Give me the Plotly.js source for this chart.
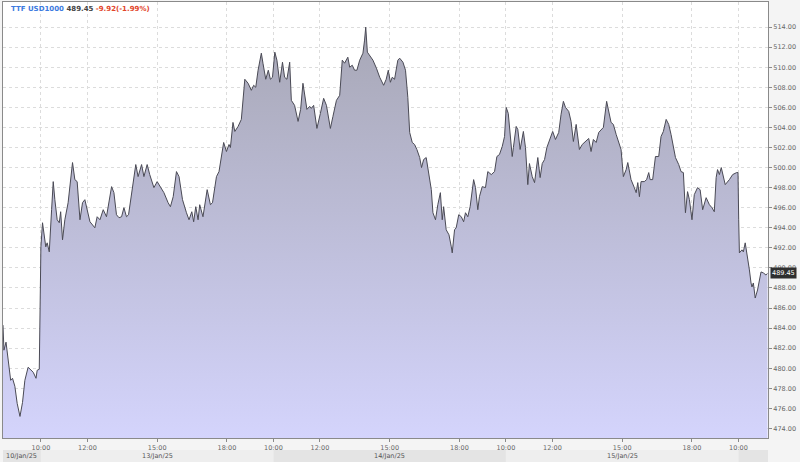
<!DOCTYPE html>
<html>
<head>
<meta charset="utf-8">
<script src="https://cdn.plot.ly/plotly-3.0.1.min.js"></script>
<style>html,body{margin:0;padding:0;background:#f4f4f4;}#chart{width:800px;height:462px;}</style>
</head>
<body>
<div id="chart"></div>
<script>
// Trading-hour offsets from 13/Jan/25 10:00 (10-hour sessions, overnight gaps removed)
const times = [
-1.63,-1.59,-1.50,-1.45,-1.30,-1.22,-1.12,-1.02,-0.90,-0.79,-0.69,-0.55,-0.44,-0.33,-0.21,-0.16,-0.07,
0.00,0.07,0.14,0.21,0.27,0.36,0.46,0.53,0.60,0.70,0.79,0.85,0.93,1.03,1.17,1.28,1.36,1.46,1.56,1.68,1.79,1.89,1.99,
2.11,2.32,2.42,2.54,2.68,2.82,3.04,3.14,3.25,3.36,3.47,3.57,3.68,3.77,3.90,4.08,4.18,4.33,4.43,4.57,4.68,4.86,
5.00,5.14,5.29,5.47,5.57,5.69,5.83,5.94,6.09,6.26,6.37,6.49,6.57,6.66,6.76,6.83,6.97,7.15,7.29,7.38,7.55,7.66,7.76,7.86,7.98,
8.09,8.15,8.26,8.34,8.48,8.62,8.77,8.91,9.05,9.15,9.24,9.34,9.48,9.55,9.67,9.78,9.87,9.96,
10.06,10.15,10.27,10.39,10.48,10.58,10.70,10.77,10.91,11.06,11.17,11.27,11.39,11.44,11.56,11.63,11.73,11.87,
12.02,12.16,12.28,12.45,12.56,12.71,12.85,12.96,13.06,13.20,13.28,13.39,13.49,13.59,13.71,13.85,13.92,13.97,
14.04,14.14,14.28,14.43,14.57,14.74,14.85,14.94,15.03,15.11,15.21,15.35,15.43,15.57,15.68,15.78,15.86,15.97,
16.07,16.17,16.29,16.37,16.46,16.57,16.69,16.79,16.86,16.97,17.07,17.18,17.26,17.32,17.43,17.55,17.65,17.69,17.79,17.86,17.97,
18.08,18.18,18.26,18.36,18.46,18.61,18.69,18.79,18.86,18.98,19.12,19.22,19.37,19.51,19.61,19.72,19.84,19.94,
20.01,20.10,20.18,20.27,20.32,20.44,20.51,20.61,20.75,20.84,20.94,21.01,21.13,21.23,21.37,21.47,21.56,21.66,21.76,21.84,21.94,
22.01,22.13,22.27,22.37,22.47,22.56,22.70,22.80,22.90,23.02,23.16,23.28,23.42,23.56,23.66,23.76,23.88,23.99,
24.19,24.33,24.52,24.62,24.74,24.85,24.95,25.05,25.17,25.24,25.31,25.38,25.52,25.60,25.67,25.74,25.81,25.95,
26.05,26.14,26.20,26.31,26.43,26.57,26.67,26.77,26.89,27.00,27.10,27.17,27.29,27.43,27.53,27.63,27.67,27.72,27.81,27.89,
28.00,28.10,28.24,28.35,28.46,28.61,28.75,28.86,28.96,29.04,29.10,29.18,29.26,29.35,29.43,29.61,29.75,29.92,29.98,
30.01,30.04,30.15,30.21,30.29,30.39,30.47,30.54,30.58,30.64,30.72,30.82,30.97,31.07,31.18,31.25
];
const prices = [
484.3,481.8,482.6,481.5,478.8,479.0,478.2,476.5,475.2,476.6,478.8,480.1,479.8,479.6,479.0,479.8,479.9,
492.1,494.5,493.1,492.1,492.5,491.6,495.8,498.6,496.8,494.8,494.5,495.6,492.8,494.8,496.5,498.5,500.5,498.8,498.6,494.8,496.5,496.8,495.8,
494.6,494.0,495.1,494.8,495.8,495.1,498.1,497.5,495.3,495.0,495.1,496.0,495.1,495.3,497.5,500.3,499.1,500.3,499.1,500.3,499.3,498.0,
498.6,498.1,497.5,496.5,496.1,497.1,499.6,499.1,496.8,495.5,494.8,495.6,494.6,496.1,494.8,496.3,495.1,497.8,496.3,496.5,499.1,499.6,501.1,502.5,501.6,
502.3,502.0,504.5,503.6,504.1,504.8,508.8,508.4,507.7,508.2,508.0,509.7,511.4,510.4,508.8,509.7,508.8,509.0,
511.5,510.7,508.5,510.5,509.0,508.8,510.5,506.7,506.2,504.6,505.8,508.4,506.7,505.8,506.1,505.9,506.2,503.9,
505.4,506.9,506.2,503.9,505.1,506.7,507.2,510.7,510.4,511.0,510.0,510.2,509.7,509.7,510.7,511.4,512.7,514.0,
511.5,511.2,510.7,509.9,509.0,508.2,508.8,509.7,508.5,509.0,508.8,510.7,510.9,510.5,509.7,507.0,503.5,502.5,
502.3,501.8,501.0,500.0,500.8,501.0,499.1,497.8,495.5,494.8,496.3,497.5,494.8,496.1,493.8,493.3,492.1,491.5,493.8,494.0,495.3,
495.1,494.6,495.5,495.1,496.1,498.8,498.0,495.8,497.1,498.1,498.0,499.6,499.3,499.6,501.1,501.3,502.1,503.1,
506.0,505.4,503.1,501.1,502.0,504.1,503.8,501.8,503.6,502.0,498.3,500.4,499.1,498.5,501.0,499.0,500.4,500.8,502.0,502.5,503.0,
503.6,502.8,503.5,505.3,506.6,506.0,505.6,504.6,502.6,504.3,501.8,502.3,502.6,502.9,501.6,502.8,502.5,503.5,
504.0,506.6,504.5,504.3,503.3,502.5,501.8,499.1,499.8,500.5,499.5,498.8,498.0,497.5,498.5,497.1,498.6,498.6,
498.8,499.5,498.8,498.8,501.1,501.1,503.1,503.6,504.8,504.3,503.3,502.5,501.0,500.3,499.6,499.5,497.5,495.5,497.6,496.8,
494.8,497.3,498.0,497.8,495.8,497.0,496.3,496.0,495.6,499.0,499.8,499.3,500.0,499.1,498.3,498.8,499.3,499.5,499.5,
494.8,491.5,491.8,491.6,492.5,491.1,489.8,488.5,488.1,488.5,487.0,487.8,489.6,489.5,489.3,489.45
];
const tickPositions = [0,2,5,8,10,12,15,18,20,22,25,28,30];
const tickLabels = ['10:00','12:00','15:00','18:00','10:00','12:00','15:00','18:00','10:00','12:00','15:00','18:00','10:00'];
const priceTicks = [474,476,478,480,482,484,486,488,490,492,494,496,498,500,502,504,506,508,510,512,514];
const dayStarts = [-1.63,0,10,20,30];
const dayEnds = [0,10,20,30,31.27];
const dayLabels = ['10/Jan/25','13/Jan/25','14/Jan/25','15/Jan/25',''];
const lastPrice = 489.45;
const change = '-9.92(-1.99%)';
const symbol = 'TTF USD1000';

const bandColors = ['#e4e4e4','#eeeeee','#e4e4e4','#eeeeee','#e4e4e4'];
const shapes = dayStarts.map((s,i)=>({
  type:'rect', xref:'x', yref:'paper', x0:s, x1:dayEnds[i], y0:-0.055, y1:-0.0275,
  fillcolor:bandColors[i], line:{width:0}, layer:'below'
}));
const annotations = dayLabels.map((d,i)=>({
  xref:'x', yref:'paper', x:(dayStarts[i]+dayEnds[i])/2, y:-0.041, text:d, showarrow:false,
  font:{family:'DejaVu Sans', size:6.5, color:'#555'}, xanchor:'center', yanchor:'middle'
})).filter(a=>a.text);
annotations.push({
  xref:'paper', yref:'paper', x:0.008, y:0.985, xanchor:'left', yanchor:'middle', showarrow:false,
  text:'<b><span style="color:#3d7be0">'+symbol+'</span> <span style="color:#444">'+lastPrice.toFixed(2)+'</span> <span style="color:#e2452b">'+change+'</span></b>',
  font:{family:'DejaVu Sans', size:7}
});
annotations.push({
  xref:'paper', yref:'y', x:1.002, y:lastPrice, xanchor:'left', yanchor:'middle', showarrow:false,
  text:lastPrice.toFixed(2), bgcolor:'#2f2f2f', font:{family:'DejaVu Sans', size:6.5, color:'#fff'},
  borderpad:1
});

const trace = {
  x: times, y: prices, type:'scatter', mode:'lines',
  line:{color:'#4a4a55', width:1},
  fill:'tozeroy',
  fillgradient:{type:'vertical', start:473, stop:515,
    colorscale:[[0,'rgb(212,212,252)'],[1,'rgb(166,166,180)']]},
  hoverinfo:'skip'
};

const layout = {
  width:800, height:462,
  margin:{l:3, r:32, t:2, b:24},
  paper_bgcolor:'#f4f4f4', plot_bgcolor:'#ffffff',
  showlegend:false,
  xaxis:{
    range:[-1.63,31.27], tickmode:'array', tickvals:tickPositions, ticktext:tickLabels,
    showline:true, mirror:true, linecolor:'#8a8a8a', linewidth:1,
    showgrid:true, gridcolor:'#dcdcdc', griddash:'3px,3px', gridwidth:1,
    ticks:'outside', ticklen:3, tickcolor:'#8a8a8a',
    tickfont:{family:'DejaVu Sans', size:6.5, color:'#666'}, zeroline:false, fixedrange:true
  },
  yaxis:{
    side:'right', range:[473.05,516.5], tickmode:'array', tickvals:priceTicks, tickformat:'.2f',
    showline:true, mirror:true, linecolor:'#8a8a8a', linewidth:1,
    showgrid:true, gridcolor:'#dcdcdc', griddash:'3px,3px', gridwidth:1,
    ticks:'outside', ticklen:3, tickcolor:'#8a8a8a',
    tickfont:{family:'DejaVu Sans', size:6.5, color:'#666'}, zeroline:false, fixedrange:true
  },
  shapes:shapes,
  annotations:annotations
};

Plotly.newPlot('chart',[trace],layout,{displayModeBar:false, staticPlot:true});
</script>
</body>
</html>
